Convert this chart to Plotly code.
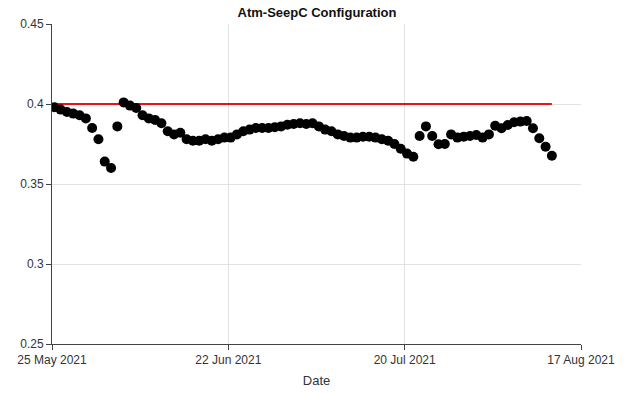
import datetime as dt
import plotly.graph_objects as go

start = dt.datetime(2021, 5, 25, 9, 0)
values = [
    0.398, 0.3965, 0.395, 0.394, 0.393, 0.391, 0.385, 0.378, 0.364, 0.360,
    0.386, 0.401, 0.399, 0.3975, 0.393, 0.391, 0.390, 0.388, 0.383, 0.381,
    0.382, 0.378, 0.377, 0.377, 0.378, 0.377, 0.378, 0.379, 0.379, 0.381,
    0.383, 0.384, 0.385, 0.385, 0.385, 0.3855, 0.386, 0.387, 0.3875, 0.388,
    0.3875, 0.388, 0.386, 0.384, 0.383, 0.381, 0.380, 0.379, 0.379, 0.3795,
    0.3795, 0.379, 0.378, 0.377, 0.375, 0.372, 0.369, 0.367, 0.380, 0.386,
    0.380, 0.3748, 0.375, 0.381, 0.379, 0.3796, 0.380, 0.3806, 0.379, 0.381,
    0.3864, 0.3848, 0.3869, 0.3886, 0.389, 0.3894, 0.3848, 0.3786, 0.3733, 0.3677,
]
dates = [start + dt.timedelta(days=i) for i in range(len(values))]
threshold = 0.4
y_ticks = [0.25, 0.3, 0.35, 0.4, 0.45]
x_ticks = ["2021-05-25", "2021-06-22", "2021-07-20", "2021-08-17"]
x_tick_labels = ["25 May 2021", "22 Jun 2021", "20 Jul 2021", "17 Aug 2021"]

fig = go.Figure()
fig.add_trace(go.Scatter(
    x=[dates[0], dates[-1]], y=[threshold, threshold], mode="lines",
    line=dict(color="#ee1111", width=2), showlegend=False, hoverinfo="skip"))
fig.add_trace(go.Scatter(
    x=dates, y=values, mode="markers",
    marker=dict(color="black", size=10), showlegend=False))

font = "Liberation Sans, Arial, sans-serif"
fig.update_layout(
    width=634, height=394,
    margin=dict(l=52, r=53, t=24, b=50),
    paper_bgcolor="white", plot_bgcolor="white",
    font=dict(family=font, size=12, color="#333"),
    title=dict(text="<b>Atm-SeepC Configuration</b>", x=0.5, xanchor="center",
               y=1 - 12 / 394, yanchor="middle", yref="container",
               font=dict(size=13, color="#111", family=font)),
)
fig.update_xaxes(
    range=["2021-05-25", "2021-08-17"],
    tickvals=x_ticks, ticktext=x_tick_labels,
    showgrid=True, gridcolor="#e2e2e2", gridwidth=1,
    showline=True, linecolor="#444", linewidth=1,
    ticks="outside", ticklen=5, tickcolor="#444",
    zeroline=False, automargin=False,
    title=dict(text="Date", standoff=9, font=dict(size=13, color="#333")),
)
fig.update_yaxes(
    range=[0.25, 0.45], tickvals=y_ticks,
    showgrid=True, gridcolor="#e2e2e2", gridwidth=1,
    showline=True, linecolor="#444", linewidth=1,
    ticks="outside", ticklen=5, tickcolor="#444",
    zeroline=False, automargin=False,
)
fig.write_html("out.html")
